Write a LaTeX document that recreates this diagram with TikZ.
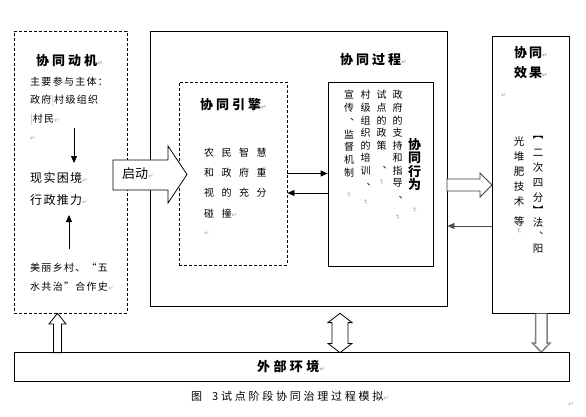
\documentclass[tikz,border=0pt]{standalone}
\usepackage{fontspec}
\setmainfont{Noto Sans CJK SC}
\newfontfamily\dvs{DejaVu Sans}
\newfontfamily\ffTA[LetterSpace=23]{Noto Sans CJK SC}
\newfontfamily\ffTF[LetterSpace=15]{Noto Sans CJK SC}
\newfontfamily\ffTE[LetterSpace=26]{Noto Sans CJK SC}
\newfontfamily\ffSB[LetterSpace=13]{Noto Sans CJK SC}
\newfontfamily\ffSC[LetterSpace=11]{Noto Sans CJK SC}
\newfontfamily\ffSD[LetterSpace=75]{Noto Sans CJK SC}
\newfontfamily\ffSE[LetterSpace=25]{Noto Sans CJK SC}
\usetikzlibrary{arrows.meta}
\newcommand\myTA{\ffTA\fontsize{13}{13}\selectfont\bfseries}
\newcommand\myTF{\ffTF\fontsize{13}{13}\selectfont\bfseries}
\newcommand\myTE{\ffTE\fontsize{13}{13}\selectfont\bfseries}
\newcommand\mySB{\ffSB\fontsize{10}{10}\selectfont}
\newcommand\mySC{\ffSC\fontsize{12}{12}\selectfont}
\newcommand\mySD{\ffSD\fontsize{10}{10}\selectfont}
\newcommand\mySE{\ffSE\fontsize{11}{11}\selectfont}
\newcommand\mySQ{\fontsize{13}{13}\selectfont}
\newcommand\mySV{\fontsize{10}{10}\selectfont}
\newcommand\mySW{\fontsize{10.5}{10.5}\selectfont}
\newcommand\myTV{\fontsize{13}{13}\selectfont\bfseries}
\newcommand\retmark{{\dvs\fontsize{6.5}{6.5}\selectfont\textcolor{gray!70}{↵}}}
\newcommand\gbar{{\textcolor{gray!60}{|}}}
\begin{document}
\begin{tikzpicture}[x=1pt,y=-1pt,
  box/.style={draw, line width=0.8pt, inner sep=0pt},
  dbox/.style={box, dash pattern=on 3pt off 2pt},
  txt/.style={inner sep=0pt, anchor=west},
  vch/.style={inner sep=0pt},
  rmk/.style={inner sep=0pt, rotate=-90},
  arr/.style={-{Triangle[length=7pt,width=6pt]}, line width=0.8pt},
  blk/.style={draw, fill=white, line width=0.8pt, line join=miter}]
\fill[white] (0,0) rectangle (586,417);
\useasboundingbox (0,0) rectangle (586,417);
% boxes
\node[dbox, minimum width=113pt, minimum height=282pt] (mot) at (70.5,172) {};
\node[box, minimum width=297pt, minimum height=275pt] (proc) at (298.5,168.5) {};
\node[dbox, minimum width=108pt, minimum height=183pt] (eng) at (233,173.5) {};
\node[box, minimum width=105pt, minimum height=184pt] (beh) at (380.5,174) {};
\node[box, minimum width=77pt, minimum height=277pt] (eff) at (530.5,174.5) {};
\node[box, minimum width=555pt, minimum height=29pt] (env) at (291.5,367.2) {};
% motivation box
\node[txt, font=\myTA] (motT) at (36,61) {协同动机\retmark};
\node[txt, font=\mySB] (m1) at (30,82) {主要参与主体：};
\node[txt, font=\mySB] (m2) at (30,101) {政府\gbar 村级组织};
\node[txt, font=\mySB] (m3) at (30,120) {\gbar 村民\retmark};
\node[txt, font=\mySB] (m4) at (30,138) {\retmark};
\node[txt, font=\mySC] (m5) at (30,178) {现实困境\retmark};
\node[txt, font=\mySC] (m6) at (30,200) {行政推力\retmark};
\node[txt, font=\mySB] (m7) at (30,268) {美丽乡村、“五};
\node[txt, font=\mySB] (m8) at (30,287) {水共治”合作史\retmark};
\coordinate (d1) at (74,128); \coordinate (d2) at (74,163);
\draw[arr] (d1) -- (d2);
\coordinate (u1) at (69,249); \coordinate (u2) at (69,215);
\draw[arr] (u1) -- (u2);
% start arrow
\draw[blk] (113,160) -- (168,160) -- (168,146) -- (187,174.5) -- (168,203) -- (168,190) -- (113,190) -- cycle;
\node[txt, font=\mySQ] (qd) at (122,174) {启动\retmark};
% engine
\node[txt, font=\myTA] (engT) at (200,105) {协同引擎\retmark};
\node[txt, font=\mySD] (e1) at (204,153) {农民智慧};
\node[txt, font=\mySD] (e2) at (204,173) {和政府重};
\node[txt, font=\mySD] (e3) at (204,193) {视的充分};
\node[txt, font=\mySD] (e4) at (204,214) {碰撞\retmark};
\node[txt] (e5) at (204,233) {\retmark};
\draw[arr] (eng.east) -- (eng.east -| beh.west);
\coordinate (a2) at ([yshift=-19.5pt]eng.east);
\draw[arr] (a2 -| beh.west) -- (a2);
% process
\node[txt, font=\myTA] (procT) at (340,60) {协同过程\retmark};
\foreach \c [count=\k from 0] in {政,府,的,支,持,和,指,导}
  \node[vch, font=\mySV] (ca\k) at (397.5,95+12.6*\k) {\c};
\node[vch, font=\mySV] (caP) at (397.5,200) {︑};
\node[rmk] (caR) at (397.5,217) {\retmark};
\foreach \c [count=\k from 0] in {试,点,的,政,策}
  \node[vch, font=\mySV] (cb\k) at (381.5,95+12.6*\k) {\c};
\node[vch, font=\mySV] (cbP) at (381.5,170.5) {︑};
\node[rmk] (cbR) at (381.5,182) {\retmark};
\foreach \c [count=\k from 0] in {村,级,组,织,的,培,训}
  \node[vch, font=\mySV] (cc\k) at (365.5,95+12.6*\k) {\c};
\node[vch, font=\mySV] (ccP) at (365.5,187.5) {︑};
\node[rmk] (ccR) at (365.5,202) {\retmark};
\foreach \c [count=\k from 0] in {宣,传}
  \node[vch, font=\mySV] (cd\k) at (349,95+12.6*\k) {\c};
\node[vch, font=\mySV] (cdP) at (349,122.5) {︑};
\foreach \c [count=\k from 0] in {监,督,机,制}
  \node[vch, font=\mySV] (ce\k) at (349,134.5+12.6*\k) {\c};
\node[rmk] (cdR) at (349,195) {\retmark};
\foreach \c [count=\k from 0] in {协,同,行,为}
  \node[vch, font=\myTV] (cf\k) at (414.5,145+13.3*\k) {\c};
\node[rmk] (cfR) at (414.5,210) {\retmark};
% process -> effect
\draw[blk, draw=black!75] (447,179) -- (480,179) -- (480,173) -- (492,185) -- (480,197) -- (480,191) -- (447,191) -- cycle;
\coordinate (r2) at ([yshift=-51.5pt]eff.west);
\draw[arr, draw=black!70] (r2) -- (r2 -| proc.east);
% effect box
\node[txt, font=\myTF] (effT1) at (514,53) {协同\retmark};
\node[txt, font=\myTF] (effT2) at (514,73) {效果\retmark};
\node[txt] (effR) at (501,95) {\retmark};
\node[vch, font=\mySW] (g0) at (538,138) {︻};
\foreach \c/\yy [count=\k from 1] in {二/153,次/168,四/183,分/197.5}
  \node[vch, font=\mySW] (g\k) at (538,\yy) {\c};
\node[vch, font=\mySW] (g5) at (538,210) {︼};
\node[vch, font=\mySW] (g6) at (538,223) {法};
\node[vch, font=\mySW] (g7) at (538,236.5) {︑};
\node[vch, font=\mySW] (g8) at (538,249) {阳};
\foreach \c/\yy [count=\k from 0] in {光/142,堆/157,肥/172,技/187,术/202,等/221}
  \node[vch, font=\mySW] (h\k) at (519,\yy) {\c};
\node[rmk] (hR) at (519,231) {\retmark};
% bottom arrows
\draw[blk] (53.5,352.7) -- (53.5,324) -- (49,324) -- (57.5,313.3) -- (66,324) -- (61.5,324) -- (61.5,352.7) -- cycle;
\draw[blk] (340,313.3) -- (352,322.6) -- (348,322.6) -- (348,343.4) -- (352,343.4) -- (340,352.7) -- (328,343.4) -- (332,343.4) -- (332,322.6) -- (328,322.6) -- cycle;
\draw[blk, draw=gray, line width=1.5pt] (535.5,313.5) -- (535.5,343) -- (532.5,343) -- (541.25,352.2) -- (550,343) -- (547,343) -- (547,313.5);
% environment
\draw[line width=0.8pt] (env.north west) -- (env.north east);
\node[txt, font=\myTE] (envT) at (257,367) {外部环境\retmark};
% caption
\node[txt, font=\mySE] (cap) at (191,396.7) {图\hspace{10pt}3试点阶段协同治理过程模拟\retmark};
\node[vch] (st) at (571,404) {\retmark};
\end{tikzpicture}
\end{document}
